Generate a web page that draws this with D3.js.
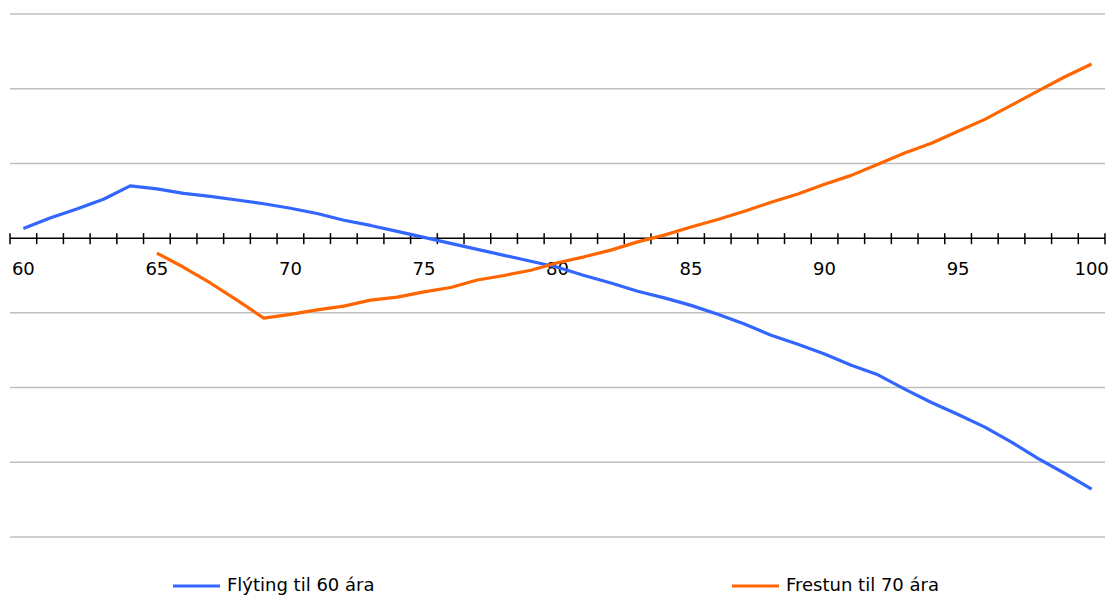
<!DOCTYPE html>
<html><head><meta charset="utf-8">
<script src="https://cdn.jsdelivr.net/npm/d3@7"></script>
<style>html,body{margin:0;padding:0;background:#fff;}svg{display:block;}</style>
</head><body>
<svg id="c" width="1108" height="596"></svg>
<script>
const ages = d3.range(60, 101);
const blueValues = [0.13,0.27,0.39,0.52,0.70,0.66,0.60,0.56,0.51,0.46,0.40,0.33,0.24,0.17,0.09,0.01,-0.07,-0.15,-0.23,-0.31,-0.39,-0.50,-0.60,-0.71,-0.80,-0.90,-1.02,-1.15,-1.30,-1.42,-1.55,-1.70,-1.83,-2.02,-2.20,-2.36,-2.53,-2.73,-2.95,-3.15,-3.36];
const orangeValues = [null,null,null,null,null,-0.20,-0.39,-0.60,-0.83,-1.07,-1.02,-0.96,-0.91,-0.83,-0.79,-0.72,-0.66,-0.56,-0.50,-0.43,-0.33,-0.25,-0.16,-0.05,0.04,0.15,0.25,0.36,0.48,0.59,0.72,0.84,0.99,1.14,1.27,1.43,1.59,1.78,1.97,2.16,2.33];
const gridValues = [-4,-3,-2,-1,0,1,2,3];
const tickLabels = [60,65,70,75,80,85,90,95,100];
const seriesNames = ["Flýting til 60 ára", "Frestun til 70 ára"];
const seriesColors = ["#3366ff", "#ff6600"];

const svg = d3.select("#c");
const x = d3.scaleBand().domain(ages).range([10, 1105]).paddingInner(0).paddingOuter(0);
const y = d3.scaleLinear().domain([-4, 3]).range([537, 14]);
const cx = a => x(a) + x.bandwidth() / 2;
const font = "'DejaVu Sans', Verdana, sans-serif";

// gridlines
svg.append("g").selectAll("line").data(gridValues.filter(v => v !== 0)).join("line")
  .attr("x1", 10).attr("x2", 1105)
  .attr("y1", d => y(d)).attr("y2", d => y(d))
  .attr("stroke", "#c0c0c0").attr("stroke-width", 1.5);

// axis at zero
const ax = svg.append("g");
ax.append("line").attr("x1", 10).attr("x2", 1105).attr("y1", y(0)).attr("y2", y(0))
  .attr("stroke", "#000").attr("stroke-width", 1.5);
const tickPos = ages.map(a => x(a)).concat([x(100) + x.bandwidth()]);
ax.selectAll("line.t").data(tickPos).join("line").attr("class", "t")
  .attr("x1", d => d).attr("x2", d => d)
  .attr("y1", y(0) - 5).attr("y2", y(0) + 6)
  .attr("stroke", "#000").attr("stroke-width", 1.5);
ax.selectAll("text").data(tickLabels).join("text")
  .attr("x", d => cx(d)).attr("y", y(0) + 37)
  .attr("text-anchor", "middle").attr("font-family", font).attr("font-size", 18)
  .attr("fill", "#000").text(d => d);

// lines
const series = [blueValues, orangeValues];
const line = d3.line().defined(d => d.v !== null).x(d => cx(d.a)).y(d => y(d.v));
series.forEach((vals, i) => {
  svg.append("path")
    .datum(ages.map((a, j) => ({a: a, v: vals[j]})))
    .attr("d", line).attr("fill", "none")
    .attr("stroke", seriesColors[i]).attr("stroke-width", 3.2)
    .attr("stroke-linejoin", "round");
});

// legend
const legX = [173, 732];
const leg = svg.append("g");
seriesNames.forEach((n, i) => {
  leg.append("line").attr("x1", legX[i]).attr("x2", legX[i] + 47)
    .attr("y1", 586).attr("y2", 586)
    .attr("stroke", seriesColors[i]).attr("stroke-width", 3.2);
  leg.append("text").attr("x", legX[i] + 54).attr("y", 591)
    .attr("font-family", font).attr("font-size", 18)
    .attr("fill", "#000").text(n);
});
</script>
</body></html>
